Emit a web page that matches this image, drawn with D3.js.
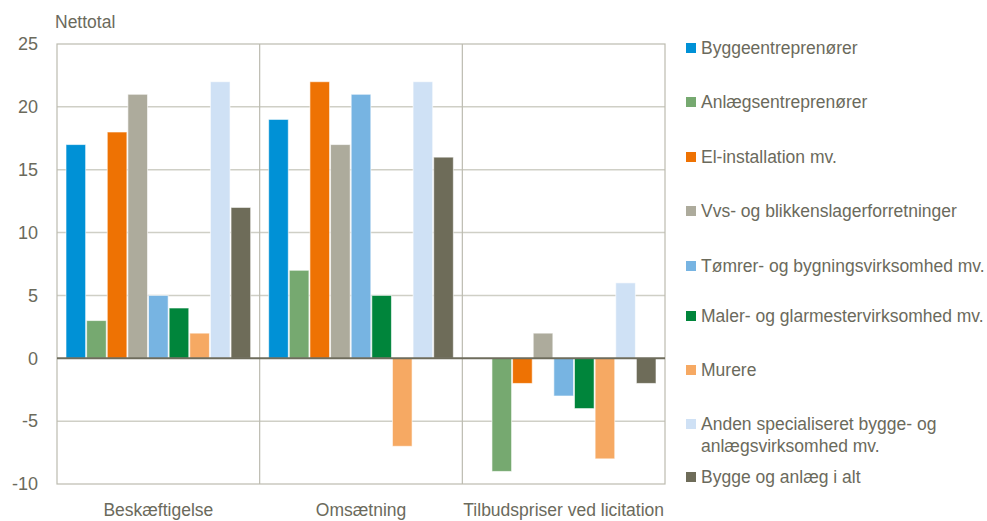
<!DOCTYPE html>
<html>
<head>
<meta charset="utf-8">
<script src="https://cdn.jsdelivr.net/npm/d3@7"></script>
<style>
  body { margin: 0; background: #fff; }
  svg { font-family: 'Liberation Sans', Arial, sans-serif; }
</style>
</head>
<body>
<svg id="chart" width="987" height="521"></svg>
<script>
const categories = ['Beskæftigelse', 'Omsætning', 'Tilbudspriser ved licitation']
const seriesNames = [
  'Byggeentreprenører',
  'Anlægsentreprenører',
  'El-installation mv.',
  'Vvs- og blikkenslagerforretninger',
  'Tømrer- og bygningsvirksomhed mv.',
  'Maler- og glarmestervirksomhed mv.',
  'Murere',
  'Anden specialiseret bygge- og anlægsvirksomhed mv.',
  'Bygge og anlæg i alt'
]
const seriesColors = ['#0091d6', '#76a970', '#ee7203', '#adab9c', '#77b4e2', '#00853b', '#f6a963', '#cfe1f5', '#6e6c59']
// one array per category, in series order
const beskaeftigelse = [17, 3, 18, 21, 5, 4, 2, 22, 12]
const omsaetning = [19, 7, 22, 17, 21, 5, -7, 22, 16]
const tilbudspriser = [0, -9, -2, 2, -3, -4, -8, 6, -2]
const yTicks = [-10, -5, 0, 5, 10, 15, 20, 25]

const values = [beskaeftigelse, omsaetning, tilbudspriser]
const textColor = '#6b6a5c'
const gridColor = '#cfcfc6'

const svg = d3.select('#chart')
const margin = { left: 57, top: 44, right: 322, bottom: 37 }
const width = 987 - margin.left - margin.right
const height = 521 - margin.top - margin.bottom

const g = svg.append('g').attr('transform', `translate(${margin.left},${margin.top})`)

const x0 = d3.scaleBand().domain(categories).range([0, width])
const x1 = d3.scaleBand().domain(d3.range(seriesNames.length))
  .range([8.5, x0.bandwidth() - 8.5]).padding(0)
const y = d3.scaleLinear().domain([-10, 25]).range([height, 0])

// grid lines
g.append('g').selectAll('line')
  .data(yTicks.filter(t => t !== 0 && t !== 25 && t !== -10))
  .join('line')
  .attr('x1', 0).attr('x2', width)
  .attr('y1', d => y(d)).attr('y2', d => y(d))
  .attr('stroke', gridColor).attr('stroke-width', 1.5)

// category separators
g.append('g').selectAll('line')
  .data(categories.slice(1))
  .join('line')
  .attr('x1', d => x0(d)).attr('x2', d => x0(d))
  .attr('y1', 0).attr('y2', height)
  .attr('stroke', '#bcbbb0').attr('stroke-width', 1.2)

// frame
g.append('rect')
  .attr('width', width).attr('height', height)
  .attr('fill', 'none').attr('stroke', '#bcbbb0').attr('stroke-width', 1.2)

// bars
const groups = g.append('g').selectAll('g')
  .data(categories)
  .join('g')
  .attr('transform', d => `translate(${x0(d)},0)`)

groups.selectAll('rect')
  .data((d, i) => values[i].map((v, j) => ({ v, j })))
  .join('rect')
  .filter(d => d.v !== 0)
  .attr('x', d => x1(d.j) + 0.5)
  .attr('width', x1.bandwidth() - 1)
  .attr('y', d => y(Math.max(0, d.v)))
  .attr('height', d => Math.abs(y(d.v) - y(0)))
  .attr('fill', d => seriesColors[d.j])
  .attr('stroke', '#fff')
  .attr('stroke-opacity', 0.6)
  .attr('stroke-width', 1)

// zero line
g.append('line')
  .attr('x1', 0).attr('x2', width)
  .attr('y1', y(0)).attr('y2', y(0))
  .attr('stroke', '#6e6c5c').attr('stroke-width', 2)

// y axis labels
const yAxis = g.append('g')
  .call(d3.axisLeft(y).tickValues(yTicks).tickFormat(d => String(d)).tickSize(0).tickPadding(19))
yAxis.select('.domain').remove()
yAxis.selectAll('text')
  .attr('fill', textColor)
  .style('font-size', '18px')

// x axis labels
const xAxis = g.append('g').attr('transform', `translate(0,${height})`)
  .call(d3.axisBottom(x0).tickSize(0).tickPadding(20))
xAxis.select('.domain').remove()
xAxis.selectAll('text')
  .attr('fill', textColor)
  .style('font-size', '17.5px')

// unit label
svg.append('text')
  .attr('x', 55).attr('y', 28)
  .attr('fill', textColor)
  .style('font-size', '17.5px')
  .text('Nettotal')

// legend
const legendRows = [48, 102, 157, 211, 266, 316, 370, 424, 477]
const legend = svg.append('g').attr('transform', 'translate(686,0)')
const items = legend.selectAll('g')
  .data(seriesNames)
  .join('g')
  .attr('transform', (d, i) => `translate(0,${legendRows[i]})`)

items.append('rect')
  .attr('x', 0).attr('y', -5)
  .attr('width', 10).attr('height', 10)
  .attr('fill', (d, i) => seriesColors[i])

items.append('text')
  .attr('x', 15).attr('y', 6)
  .attr('fill', textColor)
  .style('font-size', '17.5px')
  .each(function (d) {
    const t = d3.select(this)
    if (d.startsWith('Anden')) {
      t.append('tspan').attr('x', 15).text('Anden specialiseret bygge- og')
      t.append('tspan').attr('x', 15).attr('dy', 22).text('anlægsvirksomhed mv.')
    } else {
      t.text(d)
    }
  })
</script>
</body>
</html>
